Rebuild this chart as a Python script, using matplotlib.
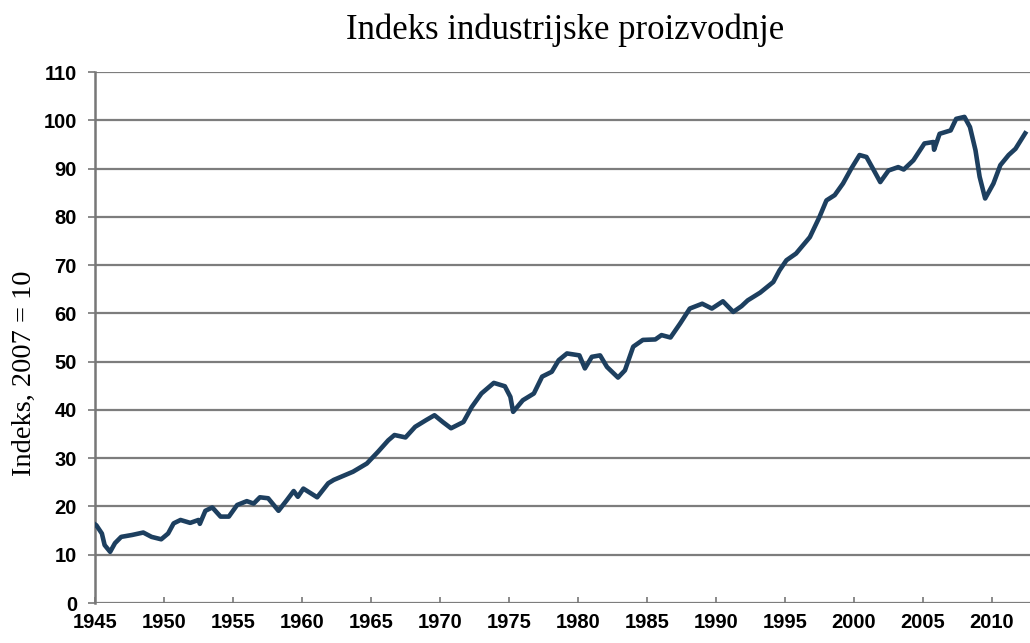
import matplotlib.pyplot as plt

# industrial production index, read by year
years = [1945.0, 1945.1, 1945.5, 1945.7, 1946.1, 1946.45, 1946.9, 1947.7, 1948.5,
         1949.1, 1949.8, 1950.3, 1950.7, 1951.2, 1951.9, 1952.5, 1952.6, 1953.0,
         1953.5, 1954.1, 1954.7, 1955.3, 1956.0, 1956.5, 1956.95, 1957.55, 1958.3,
         1958.9, 1959.4, 1959.7, 1960.1, 1961.1, 1961.9, 1962.3, 1963.7, 1964.7,
         1965.5, 1966.25, 1966.7, 1967.5, 1968.2, 1969.0, 1969.6, 1970.2, 1970.8,
         1971.7, 1972.3, 1973.0, 1973.9, 1974.7, 1975.1, 1975.3, 1976.0, 1976.8,
         1977.4, 1978.1, 1978.6, 1979.2, 1980.1, 1980.5, 1981.0, 1981.6, 1982.1,
         1982.9, 1983.4, 1984.0, 1984.7, 1985.6, 1986.05, 1986.7, 1987.4, 1988.1,
         1989.0, 1989.7, 1990.5, 1991.25, 1991.85, 1992.3, 1993.2, 1994.15, 1994.6,
         1995.1, 1995.8, 1996.8, 1997.5, 1998.0, 1998.6, 1999.2, 1999.8, 2000.4,
         2000.9, 2001.5, 2001.9, 2002.5, 2003.2, 2003.6, 2004.3, 2005.1, 2005.75,
         2005.8, 2006.2, 2007.0, 2007.4, 2008.0, 2008.4, 2008.8, 2009.1, 2009.5,
         2010.1, 2010.6, 2011.2, 2011.7, 2012.4]
index = [16.3, 16.1, 14.4, 12.0, 10.6, 12.4, 13.7, 14.1, 14.6,
         13.7, 13.2, 14.4, 16.5, 17.2, 16.6, 17.2, 16.4, 19.1,
         19.8, 17.9, 17.9, 20.3, 21.1, 20.6, 21.9, 21.7, 19.1,
         21.3, 23.2, 22.0, 23.7, 21.9, 24.8, 25.5, 27.2, 28.9,
         31.3, 33.7, 34.8, 34.3, 36.5, 37.9, 38.9, 37.5, 36.2,
         37.5, 40.6, 43.4, 45.6, 44.9, 42.7, 39.6, 42.0, 43.4,
         46.9, 47.9, 50.3, 51.7, 51.3, 48.6, 51.0, 51.3, 48.9,
         46.7, 48.2, 53.1, 54.5, 54.6, 55.5, 55.0, 57.9, 61.0,
         62.0, 61.0, 62.5, 60.3, 61.5, 62.7, 64.3, 66.5, 68.9,
         71.0, 72.4, 75.8, 80.0, 83.4, 84.5, 86.9, 90.0, 92.8,
         92.4, 89.3, 87.2, 89.6, 90.3, 89.8, 91.7, 95.2, 95.5,
         93.9, 97.2, 97.9, 100.3, 100.7, 98.6, 93.8, 88.3, 83.8,
         86.9, 90.7, 92.8, 94.1, 97.3]

xticks = list(range(1945, 2011, 5))
yticks = list(range(0, 111, 10))

fig = plt.figure(figsize=(10.3, 6.43), dpi=100)
ax = fig.add_axes([0.0922, 0.0622, 0.9078, 0.8258])

for y in yticks:
    ax.axhline(y, color='#7d7d7d', lw=1.6, zorder=1)

ax.plot(years, index, color='#1d3f5f', lw=3.3, solid_joinstyle='round', zorder=3)

ax.set_xlim(1945, 2012.75)
ax.set_ylim(0, 110)
ax.set_xticks(xticks)
ax.set_yticks(yticks)

for s in ['top', 'right', 'bottom']:
    ax.spines[s].set_visible(False)
ax.spines['left'].set_color('#777777')
ax.spines['left'].set_linewidth(1.8)

ax.tick_params(axis='x', direction='in', length=4, width=1.2, color='#777777', pad=7)
ax.tick_params(axis='y', direction='out', length=5, width=1.2, color='#777777', pad=8)
for lab in ax.get_xticklabels() + ax.get_yticklabels():
    lab.set_fontfamily('Liberation Sans')
    lab.set_fontweight('bold')
    lab.set_fontsize(14.5)

fig.text(0.549, 0.953, 'Indeks industrijske proizvodnje', ha='center', va='center',
         family='Liberation Serif', fontsize=25)
fig.text(0.024, 0.42, 'Indeks, 2007 = 10', ha='center', va='center', rotation=90,
         family='Liberation Serif', fontsize=20.5)

fig.savefig('out.png', dpi=100, facecolor='white')
